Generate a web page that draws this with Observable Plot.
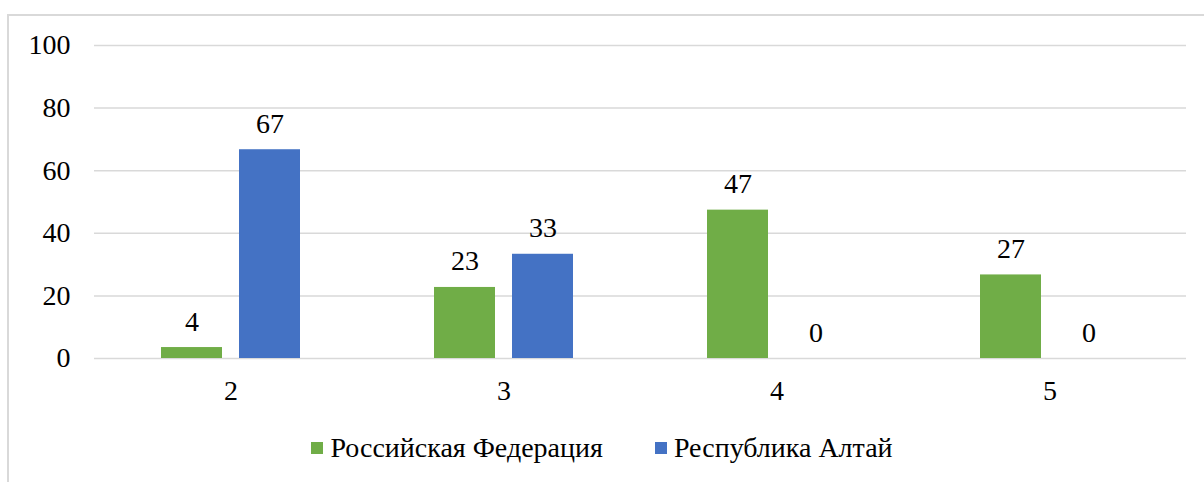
<!DOCTYPE html>
<html>
<head>
<meta charset="utf-8">
<script src="https://cdn.jsdelivr.net/npm/d3@7"></script>
<script src="https://cdn.jsdelivr.net/npm/@observablehq/plot@0.6"></script>
<style>
  html, body { margin: 0; padding: 0; background: #fff; overflow: hidden; font-family: 'Liberation Serif', serif; }
  #frame { position: absolute; left: 7px; top: 14px; width: 1220px; height: 490px; border: 2px solid #d9d9d9; box-sizing: border-box; }
  #chart { position: absolute; left: 0; top: 0; }
  #legend { position: absolute; left: 0; top: 432px; width: 1204px; display: flex; justify-content: center; gap: 52px; font-size: 28px; color: #000; }
  .item { display: flex; align-items: center; gap: 7px; }
  .sw { width: 12px; height: 12px; display: inline-block; }
</style>
</head>
<body>
<div id="frame"></div>
<div id="chart"></div>
<div id="legend" style="font-family:'Liberation Serif', serif"></div>
<script>
const categories = ["2", "3", "4", "5"];
const seriesNames = ["Российская Федерация", "Республика Алтай"];
const seriesColors = ["#70AD47", "#4472C4"];
const rfValues = [3.5, 22.7, 47.4, 26.7];
const raValues = [66.7, 33.3, 0, 0];
const rfLabels = ["4", "23", "47", "27"];
const raLabels = ["67", "33", "0", "0"];
const yTicks = [0, 20, 40, 60, 80, 100];

const data = [];
categories.forEach((c, i) => {
  data.push({cat: c, series: seriesNames[0], value: rfValues[i], label: rfLabels[i]});
  data.push({cat: c, series: seriesNames[1], value: raValues[i], label: raLabels[i]});
});

const plot = Plot.plot({
  width: 1204,
  height: 410,
  marginLeft: 94,
  marginRight: 18,
  marginTop: 45,
  marginBottom: 52,
  style: {fontFamily: "'Liberation Serif', serif", fontSize: "28px", color: "#000", background: "transparent", overflow: "visible"},
  fx: {domain: categories, padding: 0, axis: "bottom", tickSize: 0, tickPadding: 22, label: null},
  x: {domain: seriesNames, paddingInner: 0.218, paddingOuter: 0.859, axis: null},
  y: {domain: [0, 100], ticks: yTicks, tickSize: 0, tickPadding: 24, label: null},
  color: {domain: seriesNames, range: seriesColors},
  marks: [
    Plot.gridY(yTicks, {stroke: "#d9d9d9", strokeOpacity: 1, strokeWidth: 1.5}),
    Plot.barY(data, {fx: "cat", x: "series", y: "value", fill: "series"}),
    Plot.text(data, {fx: "cat", x: "series", y: "value", text: "label", lineAnchor: "bottom", dy: -17, fill: "#000"})
  ]
});
document.getElementById("chart").appendChild(plot);

const legend = document.getElementById("legend");
seriesNames.forEach((n, i) => {
  const it = document.createElement("div");
  it.className = "item";
  const sw = document.createElement("span");
  sw.className = "sw";
  sw.style.background = seriesColors[i];
  const t = document.createElement("span");
  t.textContent = n;
  it.appendChild(sw);
  it.appendChild(t);
  legend.appendChild(it);
});
</script>
</body>
</html>
